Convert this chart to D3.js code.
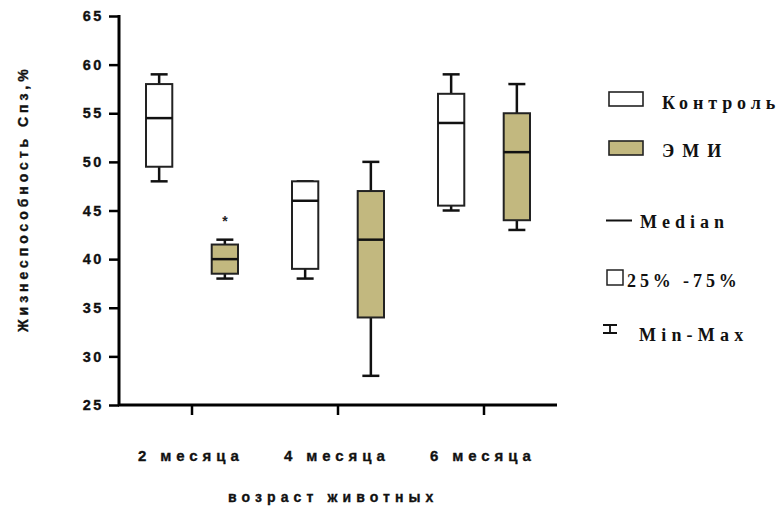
<!DOCTYPE html>
<html><head><meta charset="utf-8">
<script src="https://cdn.jsdelivr.net/npm/d3@7"></script>
<style>body{margin:0;background:#fff}svg{display:block}</style>
</head><body>
<svg id="c" width="781" height="508"></svg>
<script>
const categories = ["2 месяца", "4 месяца", "6 месяца"];
const groups = ["Контроль", "ЭМИ"];
// [min, q1, median, q3, max] per category
const controlStats = [[48, 49.5, 54.5, 58, 59], [38, 39, 46, 48, 48], [45, 45.5, 54, 57, 59]];
const emiStats = [[38, 38.5, 40, 41.5, 42], [28, 34, 42, 47, 50], [43, 44, 51, 55, 58]];
const yTicks = [25, 30, 35, 40, 45, 50, 55, 60, 65];
const starMarks = [{cat: "2 месяца", group: "ЭМИ", value: 44.2}];
const colors = {"Контроль": "#ffffff", "ЭМИ": "#c2b87f"};

const svg = d3.select("#c");
const x = d3.scaleBand().domain(categories).range([119, 557]);
const xs = d3.scaleBand().domain(groups).range([-46, 46]).paddingInner(0.6);
const y = d3.scaleLinear().domain([25, 65]).range([405, 16]);

const sans = "'Liberation Sans', Arial, sans-serif";
const serif = "'Liberation Serif', 'Times New Roman', serif";
const boldify = sel => sel.attr("stroke", "#111").attr("stroke-width", 0.35);

// y axis
const ya = svg.append("g").attr("transform", "translate(119,0)")
  .call(d3.axisLeft(y).tickValues(yTicks).tickSize(10).tickPadding(5));
ya.select(".domain").attr("stroke-width", 3).attr("d", `M0,${y(65)-1}V${y(25)+1}`);
ya.selectAll(".tick line").attr("stroke-width", 2.5);
boldify(ya.selectAll("text").style("font-family", sans).style("font-weight", "bold")
  .style("font-size", "14.5px").style("letter-spacing", "2.6px").attr("fill", "#111"));

// x axis
const xa = svg.append("g").attr("transform", `translate(0,${y(25)})`)
  .call(d3.axisBottom(x).tickSize(10).tickPadding(30));
xa.select(".domain").attr("stroke-width", 3).attr("d", `M118,0H557`);
xa.selectAll(".tick line").attr("stroke-width", 2.5);
boldify(xa.selectAll("text").style("font-family", sans).style("font-weight", "bold")
  .style("font-size", "15px").style("letter-spacing", "4.9px").attr("fill", "#111")
  .attr("text-anchor", "start").attr("x", -54).attr("y", 56).attr("dy", null));

// axis titles
boldify(svg.append("text").attr("transform", "translate(28,332) rotate(-90)")
  .attr("text-anchor", "start").style("font-family", sans).style("font-weight", "bold")
  .style("font-size", "14px").style("letter-spacing", "3.95px").attr("fill", "#111")
  .text("Жизнеспособность Спз,%"));
boldify(svg.append("text").attr("x", 228).attr("y", 502).attr("text-anchor", "start")
  .style("font-family", sans).style("font-weight", "bold").style("font-size", "14px")
  .style("letter-spacing", "5.1px").attr("fill", "#111").text("возраст животных"));

// boxes
const boxData = [];
categories.forEach((c, i) => {
  boxData.push({cat: c, group: "Контроль", s: controlStats[i]});
  boxData.push({cat: c, group: "ЭМИ", s: emiStats[i]});
});
const bw = xs.bandwidth();
const g = svg.append("g");
boxData.forEach(d => {
  const cx = x(d.cat) + x.bandwidth() / 2 + xs(d.group) + bw / 2;
  const [mn, q1, md, q3, mx] = d.s;
  const gg = g.append("g").attr("stroke", "#111").attr("stroke-width", 2.5);
  gg.append("line").attr("x1", cx).attr("x2", cx).attr("y1", y(mx)).attr("y2", y(q3));
  gg.append("line").attr("x1", cx).attr("x2", cx).attr("y1", y(q1)).attr("y2", y(mn));
  gg.append("line").attr("x1", cx - 8.5).attr("x2", cx + 8.5).attr("y1", y(mx)).attr("y2", y(mx));
  gg.append("line").attr("x1", cx - 8.5).attr("x2", cx + 8.5).attr("y1", y(mn)).attr("y2", y(mn));
  gg.append("rect").attr("x", cx - bw / 2).attr("width", bw).attr("y", y(q3)).attr("height", y(q1) - y(q3))
    .attr("fill", colors[d.group]).attr("stroke", "#222").attr("stroke-width", 2);
  gg.append("line").attr("x1", cx - bw / 2).attr("x2", cx + bw / 2).attr("y1", y(md)).attr("y2", y(md));
});
starMarks.forEach(s => {
  const cx = x(s.cat) + x.bandwidth() / 2 + xs(s.group) + bw / 2;
  svg.append("text").attr("x", cx).attr("y", y(s.value) + 8).attr("text-anchor", "middle")
    .style("font-family", sans).style("font-weight", "bold").style("font-size", "14px").attr("fill", "#222").text("*");
});

// legend
const lg = svg.append("g");
const lt = (xx, yy, t, ls) => lg.append("text").attr("x", xx).attr("y", yy)
  .style("font-family", serif).style("font-weight", "bold").style("font-size", "18px")
  .style("letter-spacing", ls).attr("fill", "#111").text(t);
const legendBaselines = [109, 157];
groups.forEach((gname, i) => {
  const yy = 92 + i * 49;
  lg.append("rect").attr("x", 609).attr("y", yy).attr("width", 34).attr("height", 14)
    .attr("fill", colors[gname]).attr("stroke", "#222").attr("stroke-width", 1.6);
  lt(662, legendBaselines[i], gname, i === 0 ? "4.9px" : "8px");
});
lg.append("line").attr("x1", 606).attr("x2", 632).attr("y1", 220.5).attr("y2", 220.5).attr("stroke", "#111").attr("stroke-width", 2);
lt(640, 228, "Median", "5px");
lg.append("rect").attr("x", 607).attr("y", 270).attr("width", 16).attr("height", 15)
  .attr("fill", "#fff").attr("stroke", "#222").attr("stroke-width", 1.5);
lt(627, 287, "25% -75%", "3.9px");
lg.append("path").attr("d", "M603,325H617M610,325V333M603,333H617").attr("stroke", "#111").attr("stroke-width", 1.8).attr("fill", "none");
lt(639, 341, "Min-Max", "5.2px");
</script>
</body></html>
